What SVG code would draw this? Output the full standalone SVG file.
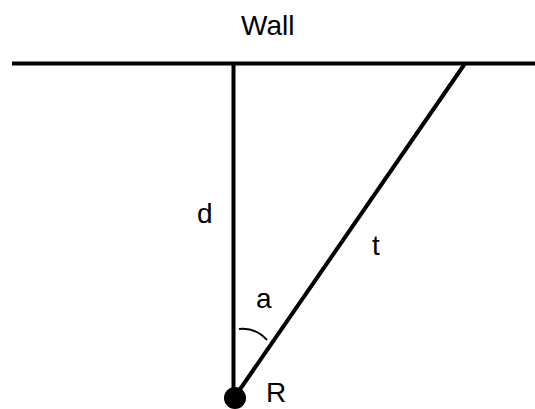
<svg xmlns="http://www.w3.org/2000/svg" width="535" height="409" viewBox="0 0 535 409">
<style>
.ln{stroke:#000;stroke-width:4;fill:none;stroke-linecap:butt}
.lbl{font-family:"Liberation Sans",Arial,sans-serif;font-size:28px;fill:#000}
</style>
<rect width="535" height="409" fill="#fff"/>
<g id="connectors">
<line class="ln" x1="12" y1="63.5" x2="535" y2="63.5"/>
<line class="ln" x1="233.5" y1="63.5" x2="233.5" y2="398"/>
<line class="ln" x1="234" y1="398" x2="465" y2="63.5"/>
<path d="M239,329 Q255,327 267,340" stroke="#000" stroke-width="2" fill="none"/>
</g>
<g id="wall"><text class="lbl" x="241" y="35">Wall</text></g>
<g id="d"><text class="lbl" x="197" y="223">d</text></g>
<g id="t"><text class="lbl" x="372" y="255">t</text></g>
<g id="a"><text class="lbl" x="256" y="308">a</text></g>
<g id="R"><circle cx="235" cy="398" r="11" fill="#000"/><text class="lbl" x="266" y="402">R</text></g>
</svg>
